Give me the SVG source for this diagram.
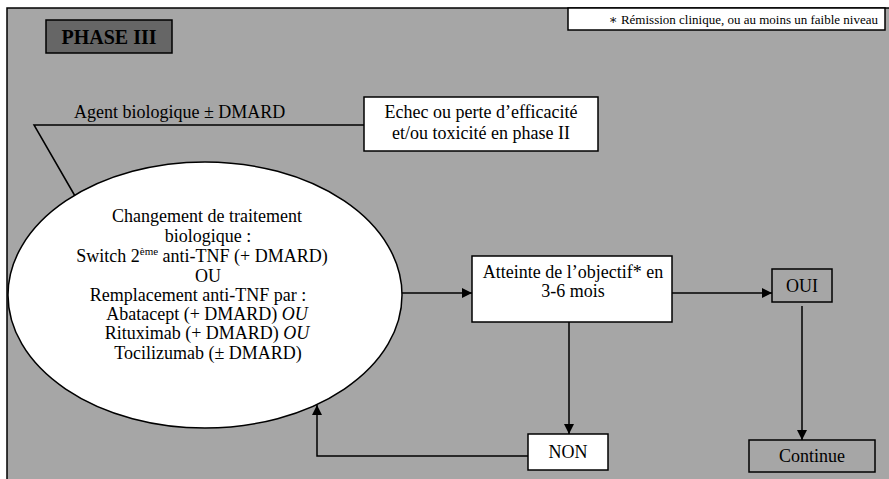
<svg xmlns="http://www.w3.org/2000/svg" width="889" height="479" viewBox="0 0 889 479" font-family="'Liberation Serif', 'DejaVu Serif', serif">
<style>
text{font-family:'Liberation Serif','DejaVu Serif',serif;fill:#000}
.t{font-size:18px}
.c{text-anchor:middle}
.box{stroke:#000;stroke-width:1.5}
.w{fill:#fff}
.g{fill:#a6a6a6}
.ln{fill:none;stroke:#000;stroke-width:1.5}
</style>
<defs>
<marker id="ah" viewBox="0 0 10 10" refX="10" refY="5" markerWidth="10" markerHeight="10" markerUnits="userSpaceOnUse" orient="auto">
<path d="M0,0 L10,5 L0,10 Z" fill="#000"/>
</marker>
</defs>
<rect x="0" y="0" width="889" height="479" fill="#fff"/>
<rect x="7" y="8" width="900" height="500" fill="#a6a6a6" stroke="#000" stroke-width="1.5"/>

<g id="note">
<rect x="568" y="8" width="317" height="22" class="box w"/>
<text x="878" y="24" font-size="13" text-anchor="end">∗ Rémission clinique, ou au moins un faible niveau</text>
</g>

<g id="phase">
<rect x="46" y="20" width="126" height="33" fill="#666" class="box"/>
<text x="109" y="44" font-size="20" font-weight="bold" class="c">PHASE III</text>
</g>

<g id="connectors">
<polyline points="365,125 34,125 75,196" class="ln"/>
<line x1="402" y1="293" x2="472" y2="293" class="ln" marker-end="url(#ah)"/>
<line x1="672" y1="293" x2="772" y2="293" class="ln" marker-end="url(#ah)"/>
<line x1="569" y1="322" x2="569" y2="434" class="ln" marker-end="url(#ah)"/>
<line x1="802" y1="306" x2="802" y2="440" class="ln" marker-end="url(#ah)"/>
<polyline points="528,456 317,456 317,405" class="ln" marker-end="url(#ah)"/>
</g>

<g id="agent-label">
<text x="74" y="118" class="t">Agent biologique ± DMARD</text>
</g>

<g id="echec">
<rect x="364" y="97" width="234" height="54" class="box w"/>
<text x="481" y="118" class="t c">Echec ou perte d’efficacité</text>
<text x="481" y="139" class="t c">et/ou toxicité en phase II</text>
</g>

<g id="changement">
<ellipse cx="205" cy="295" rx="197" ry="133" class="box w"/>
<text x="207" y="222" class="t c">Changement de traitement</text>
<text x="208" y="242" class="t c">biologique :</text>
<text x="202" y="262" class="t c">Switch 2<tspan font-size="11" dy="-7">ème</tspan><tspan dy="7"> anti-TNF (+ DMARD)</tspan></text>
<text x="208" y="282" class="t c">OU</text>
<text x="198" y="301" class="t c">Remplacement anti-TNF par :</text>
<text x="207" y="320" class="t c">Abatacept (+ DMARD) <tspan font-style="italic">OU</tspan></text>
<text x="207" y="339" class="t c">Rituximab (+ DMARD) <tspan font-style="italic">OU</tspan></text>
<text x="208" y="359" class="t c">Tocilizumab (± DMARD)</text>
</g>

<g id="atteinte">
<rect x="472" y="256" width="200" height="66" class="box w"/>
<text x="573" y="278" class="t c">Atteinte de l’objectif* en</text>
<text x="573" y="297" class="t c">3-6 mois</text>
</g>

<g id="oui">
<rect x="772" y="269" width="60" height="33" class="box g"/>
<text x="802" y="292" class="t c">OUI</text>
</g>

<g id="non">
<rect x="528" y="434" width="80" height="36" class="box w"/>
<text x="568" y="458" class="t c">NON</text>
</g>

<g id="continue">
<rect x="749" y="440" width="126" height="32" class="box g"/>
<text x="812" y="462" class="t c">Continue</text>
</g>
</svg>
